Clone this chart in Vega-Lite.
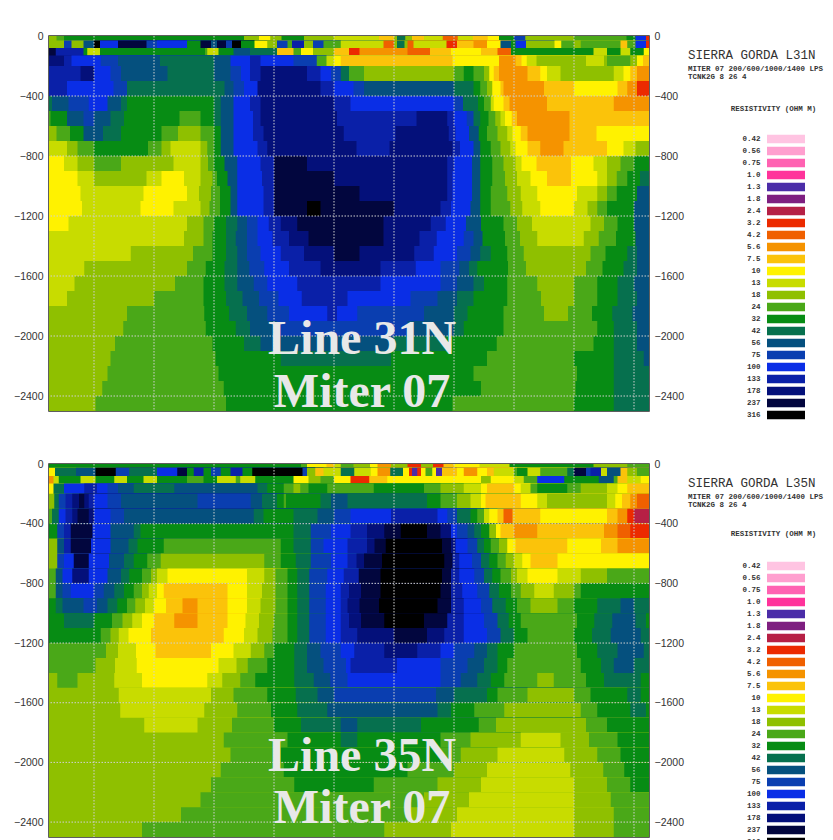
{"$schema":"https://vega.github.io/schema/vega-lite/v6.json","padding":{"left":12,"top":30,"right":0,"bottom":0},"background":"white","config":{"view":{"stroke":"#2a2a2a","strokeWidth":1.5},"legend":{"disable":true},"axis":{"labelFont":"Liberation Sans","labelFontSize":10.5,"labelColor":"#333","ticks":false,"domain":false,"grid":false,"title":null}},
"datasets":{
"a":[
{"x":3300,"d":0,"r":18},{"x":3350,"d":0,"r":24},{"x":3400,"d":0,"r":32},{"x":4600,"d":0,"r":18},{"x":4700,"d":0,"r":10},{"x":4775,"d":0,"r":18},{"x":4850,"d":0,"r":32},{"x":5000,"d":0,"r":18},{"x":5200,"d":0,"r":13},{"x":5500,"d":0,"r":7.5},{"x":5600,"d":0,"r":18},{"x":5620,"d":0,"r":42},{"x":5675,"d":0,"r":18},{"x":5720,"d":0,"r":7.5},{"x":5800,"d":0,"r":13},{"x":5925,"d":0,"r":4.2},{"x":6025,"d":0,"r":13},{"x":6125,"d":0,"r":7.5},{"x":6225,"d":0,"r":10},{"x":6300,"d":0,"r":32},{"x":6400,"d":0,"r":75},{"x":6475,"d":0,"r":18},{"x":6800,"d":0,"r":24},{"x":7150,"d":0,"r":32},{"x":7210,"d":0,"r":100},{"x":7280,"d":0,"r":3.2},
{"x":3300,"d":-30,"r":18},{"x":3400,"d":-30,"r":75},{"x":3450,"d":-30,"r":18},{"x":3530,"d":-30,"r":56},{"x":3600,"d":-30,"r":316},{"x":3640,"d":-30,"r":100},{"x":3760,"d":-30,"r":237},{"x":3950,"d":-30,"r":75},{"x":4020,"d":-30,"r":100},{"x":4220,"d":-30,"r":32},{"x":4310,"d":-30,"r":237},{"x":4380,"d":-30,"r":56},{"x":4420,"d":-30,"r":237},{"x":4480,"d":-30,"r":75},{"x":4520,"d":-30,"r":316},{"x":4580,"d":-30,"r":32},{"x":4670,"d":-30,"r":10},{"x":4755,"d":-30,"r":18},{"x":4820,"d":-30,"r":75},{"x":4890,"d":-30,"r":24},{"x":4920,"d":-30,"r":133},{"x":5000,"d":-30,"r":18},{"x":5060,"d":-30,"r":75},{"x":5130,"d":-30,"r":24},{"x":5245,"d":-30,"r":13},{"x":5530,"d":-30,"r":4.2},{"x":5600,"d":-30,"r":18},{"x":5620,"d":-30,"r":42},{"x":5670,"d":-30,"r":18},{"x":5690,"d":-30,"r":4.2},{"x":5730,"d":-30,"r":13},{"x":5950,"d":-30,"r":3.2},{"x":6020,"d":-30,"r":7.5},{"x":6130,"d":-30,"r":5.6},{"x":6220,"d":-30,"r":10},{"x":6310,"d":-30,"r":56},{"x":6380,"d":-30,"r":32},{"x":6410,"d":-30,"r":100},{"x":6480,"d":-30,"r":18},{"x":6670,"d":-30,"r":10},{"x":6715,"d":-30,"r":24},{"x":6800,"d":-30,"r":18},{"x":6845,"d":-30,"r":24},{"x":7110,"d":-30,"r":7.5},{"x":7155,"d":-30,"r":24},{"x":7210,"d":-30,"r":100},{"x":7280,"d":-30,"r":3.2},
{"x":3300,"d":-80,"r":237},{"x":3345,"d":-80,"r":133},{"x":3530,"d":-80,"r":32},{"x":3555,"d":-80,"r":13},{"x":3640,"d":-80,"r":32},{"x":4340,"d":-80,"r":24},{"x":4355,"d":-80,"r":13},{"x":4430,"d":-80,"r":32},{"x":4530,"d":-80,"r":56},{"x":4640,"d":-80,"r":42},{"x":4820,"d":-80,"r":7.5},{"x":4930,"d":-80,"r":24},{"x":4980,"d":-80,"r":10},{"x":5060,"d":-80,"r":18},{"x":5200,"d":-80,"r":7.5},{"x":5300,"d":-80,"r":3.2},{"x":5370,"d":-80,"r":5.6},{"x":5690,"d":-80,"r":4.2},{"x":5840,"d":-80,"r":7.5},{"x":5980,"d":-80,"r":10},{"x":6180,"d":-80,"r":7.5},{"x":6290,"d":-80,"r":4.2},{"x":6380,"d":-80,"r":32},{"x":6930,"d":-80,"r":13},{"x":7020,"d":-80,"r":32},{"x":7110,"d":-80,"r":13},{"x":7175,"d":-80,"r":32},{"x":7265,"d":-80,"r":10},
{"x":3300,"d":-130,"r":178},{"x":3400,"d":-130,"r":133},{"x":3450,"d":-130,"r":100},{"x":3645,"d":-130,"r":75},{"x":3760,"d":-130,"r":56},{"x":4040,"d":-130,"r":42},{"x":4400,"d":-130,"r":56},{"x":4510,"d":-130,"r":100},{"x":4640,"d":-130,"r":133},{"x":4710,"d":-130,"r":100},{"x":4930,"d":-130,"r":75},{"x":5085,"d":-130,"r":24},{"x":5150,"d":-130,"r":13},{"x":5200,"d":-130,"r":10},{"x":5245,"d":-130,"r":7.5},{"x":5990,"d":-130,"r":10},{"x":6300,"d":-130,"r":5.6},{"x":6410,"d":-130,"r":7.5},{"x":6450,"d":-130,"r":10},{"x":6485,"d":-130,"r":13},{"x":6550,"d":-130,"r":18},{"x":6880,"d":-130,"r":13},{"x":7000,"d":-130,"r":18},{"x":7020,"d":-130,"r":24},{"x":7175,"d":-130,"r":18},{"x":7220,"d":-130,"r":10},{"x":7260,"d":-130,"r":7.5},
{"x":3300,"d":-200,"r":133},{"x":3510,"d":-200,"r":178},{"x":3600,"d":-200,"r":100},{"x":3710,"d":-200,"r":75},{"x":3780,"d":-200,"r":56},{"x":4090,"d":-200,"r":42},{"x":4400,"d":-200,"r":56},{"x":4510,"d":-200,"r":75},{"x":4580,"d":-200,"r":100},{"x":4640,"d":-200,"r":133},{"x":4710,"d":-200,"r":178},{"x":5020,"d":-200,"r":133},{"x":5110,"d":-200,"r":100},{"x":5180,"d":-200,"r":75},{"x":5245,"d":-200,"r":42},{"x":5300,"d":-200,"r":24},{"x":5400,"d":-200,"r":18},{"x":6000,"d":-200,"r":24},{"x":6065,"d":-200,"r":32},{"x":6130,"d":-200,"r":24},{"x":6200,"d":-200,"r":18},{"x":6235,"d":-200,"r":10},{"x":6265,"d":-200,"r":7.5},{"x":6300,"d":-200,"r":5.6},{"x":6490,"d":-200,"r":7.5},{"x":6575,"d":-200,"r":10},{"x":6620,"d":-200,"r":13},{"x":6710,"d":-200,"r":18},{"x":7065,"d":-200,"r":13},{"x":7130,"d":-200,"r":10},{"x":7175,"d":-200,"r":7.5},{"x":7220,"d":-200,"r":5.6},
{"x":3300,"d":-300,"r":133},{"x":3420,"d":-300,"r":100},{"x":3730,"d":-300,"r":75},{"x":3820,"d":-300,"r":42},{"x":4470,"d":-300,"r":56},{"x":4530,"d":-300,"r":75},{"x":4600,"d":-300,"r":100},{"x":4690,"d":-300,"r":178},{"x":5110,"d":-300,"r":133},{"x":5200,"d":-300,"r":100},{"x":5330,"d":-300,"r":75},{"x":5400,"d":-300,"r":56},{"x":6000,"d":-300,"r":42},{"x":6130,"d":-300,"r":32},{"x":6175,"d":-300,"r":24},{"x":6220,"d":-300,"r":18},{"x":6255,"d":-300,"r":10},{"x":6310,"d":-300,"r":7.5},{"x":6330,"d":-300,"r":5.6},{"x":6600,"d":-300,"r":7.5},{"x":6800,"d":-300,"r":10},{"x":7090,"d":-300,"r":7.5},{"x":7155,"d":-300,"r":5.6},{"x":7220,"d":-300,"r":3.2},
{"x":3300,"d":-400,"r":42},{"x":3320,"d":-400,"r":56},{"x":3430,"d":-400,"r":75},{"x":3565,"d":-400,"r":100},{"x":3690,"d":-400,"r":56},{"x":3780,"d":-400,"r":42},{"x":3820,"d":-400,"r":32},{"x":4400,"d":-400,"r":42},{"x":4445,"d":-400,"r":56},{"x":4530,"d":-400,"r":100},{"x":4640,"d":-400,"r":133},{"x":4710,"d":-400,"r":178},{"x":5200,"d":-400,"r":133},{"x":5310,"d":-400,"r":100},{"x":6000,"d":-400,"r":75},{"x":6060,"d":-400,"r":42},{"x":6160,"d":-400,"r":32},{"x":6200,"d":-400,"r":24},{"x":6245,"d":-400,"r":13},{"x":6265,"d":-400,"r":10},{"x":6330,"d":-400,"r":7.5},{"x":6370,"d":-400,"r":5.6},{"x":6620,"d":-400,"r":7.5},{"x":7065,"d":-400,"r":5.6},
{"x":3300,"d":-500,"r":24},{"x":3310,"d":-500,"r":32},{"x":3420,"d":-500,"r":56},{"x":3530,"d":-500,"r":75},{"x":3600,"d":-500,"r":56},{"x":3710,"d":-500,"r":42},{"x":3800,"d":-500,"r":32},{"x":4170,"d":-500,"r":24},{"x":4310,"d":-500,"r":32},{"x":4400,"d":-500,"r":42},{"x":4445,"d":-500,"r":56},{"x":4530,"d":-500,"r":100},{"x":4660,"d":-500,"r":133},{"x":4710,"d":-500,"r":178},{"x":5220,"d":-500,"r":133},{"x":5750,"d":-500,"r":178},{"x":5955,"d":-500,"r":133},{"x":6000,"d":-500,"r":100},{"x":6085,"d":-500,"r":75},{"x":6130,"d":-500,"r":42},{"x":6175,"d":-500,"r":32},{"x":6230,"d":-500,"r":24},{"x":6275,"d":-500,"r":18},{"x":6310,"d":-500,"r":13},{"x":6340,"d":-500,"r":10},{"x":6385,"d":-500,"r":7.5},{"x":6420,"d":-500,"r":5.6},{"x":6770,"d":-500,"r":7.5},
{"x":3300,"d":-600,"r":18},{"x":3350,"d":-600,"r":24},{"x":3440,"d":-600,"r":32},{"x":3530,"d":-600,"r":56},{"x":3660,"d":-600,"r":42},{"x":3780,"d":-600,"r":32},{"x":4050,"d":-600,"r":24},{"x":4160,"d":-600,"r":18},{"x":4310,"d":-600,"r":24},{"x":4400,"d":-600,"r":32},{"x":4445,"d":-600,"r":56},{"x":4530,"d":-600,"r":100},{"x":4660,"d":-600,"r":133},{"x":4730,"d":-600,"r":178},{"x":5265,"d":-600,"r":133},{"x":5610,"d":-600,"r":178},{"x":5965,"d":-600,"r":133},{"x":6010,"d":-600,"r":100},{"x":6100,"d":-600,"r":56},{"x":6165,"d":-600,"r":32},{"x":6220,"d":-600,"r":24},{"x":6290,"d":-600,"r":18},{"x":6355,"d":-600,"r":13},{"x":6390,"d":-600,"r":10},{"x":6445,"d":-600,"r":7.5},{"x":6490,"d":-600,"r":5.6},{"x":6770,"d":-600,"r":7.5},{"x":6950,"d":-600,"r":10},
{"x":3300,"d":-700,"r":13},{"x":3420,"d":-700,"r":18},{"x":3490,"d":-700,"r":24},{"x":3600,"d":-700,"r":32},{"x":3960,"d":-700,"r":24},{"x":4050,"d":-700,"r":18},{"x":4110,"d":-700,"r":13},{"x":4310,"d":-700,"r":18},{"x":4355,"d":-700,"r":24},{"x":4400,"d":-700,"r":32},{"x":4445,"d":-700,"r":56},{"x":4530,"d":-700,"r":100},{"x":4690,"d":-700,"r":133},{"x":4755,"d":-700,"r":178},{"x":5350,"d":-700,"r":133},{"x":5570,"d":-700,"r":178},{"x":5990,"d":-700,"r":133},{"x":6040,"d":-700,"r":100},{"x":6130,"d":-700,"r":56},{"x":6175,"d":-700,"r":32},{"x":6245,"d":-700,"r":24},{"x":6310,"d":-700,"r":18},{"x":6375,"d":-700,"r":13},{"x":6410,"d":-700,"r":10},{"x":6490,"d":-700,"r":7.5},{"x":6575,"d":-700,"r":5.6},{"x":6730,"d":-700,"r":7.5},{"x":7020,"d":-700,"r":10},{"x":7130,"d":-700,"r":13},{"x":7210,"d":-700,"r":18},
{"x":3300,"d":-800,"r":10},{"x":3400,"d":-800,"r":13},{"x":3490,"d":-800,"r":18},{"x":3600,"d":-800,"r":24},{"x":3780,"d":-800,"r":18},{"x":4130,"d":-800,"r":13},{"x":4310,"d":-800,"r":18},{"x":4360,"d":-800,"r":24},{"x":4400,"d":-800,"r":32},{"x":4470,"d":-800,"r":56},{"x":4555,"d":-800,"r":100},{"x":4710,"d":-800,"r":133},{"x":4800,"d":-800,"r":237},{"x":5020,"d":-800,"r":178},{"x":5955,"d":-800,"r":133},{"x":6000,"d":-800,"r":100},{"x":6120,"d":-800,"r":56},{"x":6175,"d":-800,"r":32},{"x":6255,"d":-800,"r":24},{"x":6330,"d":-800,"r":18},{"x":6410,"d":-800,"r":13},{"x":6450,"d":-800,"r":10},{"x":6550,"d":-800,"r":7.5},{"x":6780,"d":-800,"r":10},{"x":6930,"d":-800,"r":13},{"x":7020,"d":-800,"r":18},{"x":7110,"d":-800,"r":24},{"x":7200,"d":-800,"r":32},
{"x":3300,"d":-900,"r":10},{"x":3490,"d":-900,"r":13},{"x":3600,"d":-900,"r":18},{"x":3950,"d":-900,"r":13},{"x":4050,"d":-900,"r":10},{"x":4200,"d":-900,"r":13},{"x":4310,"d":-900,"r":18},{"x":4390,"d":-900,"r":24},{"x":4420,"d":-900,"r":32},{"x":4490,"d":-900,"r":56},{"x":4555,"d":-900,"r":100},{"x":4720,"d":-900,"r":133},{"x":4800,"d":-900,"r":237},{"x":5200,"d":-900,"r":178},{"x":5955,"d":-900,"r":133},{"x":5990,"d":-900,"r":100},{"x":6120,"d":-900,"r":56},{"x":6175,"d":-900,"r":32},{"x":6255,"d":-900,"r":24},{"x":6340,"d":-900,"r":18},{"x":6420,"d":-900,"r":13},{"x":6510,"d":-900,"r":10},{"x":6620,"d":-900,"r":7.5},{"x":6780,"d":-900,"r":10},{"x":6955,"d":-900,"r":13},{"x":7020,"d":-900,"r":18},{"x":7085,"d":-900,"r":24},{"x":7155,"d":-900,"r":32},{"x":7240,"d":-900,"r":42},
{"x":3300,"d":-1000,"r":10},{"x":3510,"d":-1000,"r":13},{"x":3930,"d":-1000,"r":10},{"x":4220,"d":-1000,"r":13},{"x":4300,"d":-1000,"r":18},{"x":4380,"d":-1000,"r":24},{"x":4440,"d":-1000,"r":32},{"x":4510,"d":-1000,"r":56},{"x":4555,"d":-1000,"r":100},{"x":4730,"d":-1000,"r":133},{"x":4800,"d":-1000,"r":237},{"x":5370,"d":-1000,"r":178},{"x":5955,"d":-1000,"r":133},{"x":5990,"d":-1000,"r":100},{"x":6120,"d":-1000,"r":56},{"x":6175,"d":-1000,"r":32},{"x":6245,"d":-1000,"r":24},{"x":6355,"d":-1000,"r":18},{"x":6445,"d":-1000,"r":13},{"x":6555,"d":-1000,"r":10},{"x":6820,"d":-1000,"r":13},{"x":6955,"d":-1000,"r":18},{"x":7020,"d":-1000,"r":24},{"x":7085,"d":-1000,"r":32},{"x":7220,"d":-1000,"r":56},
{"x":3300,"d":-1100,"r":10},{"x":3520,"d":-1100,"r":13},{"x":3910,"d":-1100,"r":10},{"x":4130,"d":-1100,"r":13},{"x":4310,"d":-1100,"r":18},{"x":4370,"d":-1100,"r":24},{"x":4440,"d":-1100,"r":32},{"x":4510,"d":-1100,"r":56},{"x":4555,"d":-1100,"r":100},{"x":4730,"d":-1100,"r":133},{"x":4800,"d":-1100,"r":237},{"x":5020,"d":-1100,"r":316},{"x":5110,"d":-1100,"r":237},{"x":5600,"d":-1100,"r":178},{"x":5910,"d":-1100,"r":133},{"x":5980,"d":-1100,"r":100},{"x":6110,"d":-1100,"r":56},{"x":6175,"d":-1100,"r":32},{"x":6245,"d":-1100,"r":24},{"x":6375,"d":-1100,"r":18},{"x":6455,"d":-1100,"r":13},{"x":6575,"d":-1100,"r":10},{"x":6800,"d":-1100,"r":13},{"x":6890,"d":-1100,"r":18},{"x":6955,"d":-1100,"r":24},{"x":7020,"d":-1100,"r":32},{"x":7200,"d":-1100,"r":56},
{"x":3300,"d":-1200,"r":10},{"x":3430,"d":-1200,"r":13},{"x":4220,"d":-1200,"r":18},{"x":4330,"d":-1200,"r":24},{"x":4400,"d":-1200,"r":32},{"x":4480,"d":-1200,"r":42},{"x":4555,"d":-1200,"r":56},{"x":4620,"d":-1200,"r":75},{"x":4690,"d":-1200,"r":100},{"x":4765,"d":-1200,"r":133},{"x":4845,"d":-1200,"r":178},{"x":4955,"d":-1200,"r":237},{"x":5530,"d":-1200,"r":178},{"x":5845,"d":-1200,"r":133},{"x":5945,"d":-1200,"r":100},{"x":6080,"d":-1200,"r":56},{"x":6180,"d":-1200,"r":32},{"x":6330,"d":-1200,"r":24},{"x":6420,"d":-1200,"r":18},{"x":6520,"d":-1200,"r":13},{"x":6910,"d":-1200,"r":18},{"x":7000,"d":-1200,"r":24},{"x":7090,"d":-1200,"r":32},{"x":7200,"d":-1200,"r":56},
{"x":3300,"d":-1300,"r":13},{"x":4200,"d":-1300,"r":18},{"x":4330,"d":-1300,"r":24},{"x":4390,"d":-1300,"r":32},{"x":4480,"d":-1300,"r":42},{"x":4545,"d":-1300,"r":56},{"x":4620,"d":-1300,"r":75},{"x":4690,"d":-1300,"r":100},{"x":4790,"d":-1300,"r":133},{"x":4900,"d":-1300,"r":178},{"x":5030,"d":-1300,"r":237},{"x":5530,"d":-1300,"r":178},{"x":5770,"d":-1300,"r":133},{"x":5885,"d":-1300,"r":100},{"x":6065,"d":-1300,"r":75},{"x":6130,"d":-1300,"r":56},{"x":6190,"d":-1300,"r":32},{"x":6340,"d":-1300,"r":24},{"x":6440,"d":-1300,"r":18},{"x":6555,"d":-1300,"r":13},{"x":6865,"d":-1300,"r":18},{"x":6965,"d":-1300,"r":24},{"x":7080,"d":-1300,"r":32},{"x":7210,"d":-1300,"r":56},
{"x":3300,"d":-1400,"r":13},{"x":3845,"d":-1400,"r":18},{"x":4260,"d":-1400,"r":24},{"x":4390,"d":-1400,"r":32},{"x":4480,"d":-1400,"r":42},{"x":4555,"d":-1400,"r":56},{"x":4620,"d":-1400,"r":75},{"x":4710,"d":-1400,"r":100},{"x":4845,"d":-1400,"r":133},{"x":5000,"d":-1400,"r":178},{"x":5200,"d":-1400,"r":237},{"x":5370,"d":-1400,"r":178},{"x":5735,"d":-1400,"r":133},{"x":5865,"d":-1400,"r":100},{"x":6020,"d":-1400,"r":75},{"x":6110,"d":-1400,"r":56},{"x":6175,"d":-1400,"r":42},{"x":6245,"d":-1400,"r":32},{"x":6355,"d":-1400,"r":24},{"x":6465,"d":-1400,"r":18},{"x":6910,"d":-1400,"r":24},{"x":7010,"d":-1400,"r":32},{"x":7155,"d":-1400,"r":42},{"x":7220,"d":-1400,"r":56},
{"x":3300,"d":-1500,"r":13},{"x":3535,"d":-1500,"r":18},{"x":4220,"d":-1500,"r":24},{"x":4345,"d":-1500,"r":32},{"x":4470,"d":-1500,"r":42},{"x":4555,"d":-1500,"r":56},{"x":4635,"d":-1500,"r":75},{"x":4735,"d":-1500,"r":100},{"x":4900,"d":-1500,"r":133},{"x":5110,"d":-1500,"r":178},{"x":5510,"d":-1500,"r":133},{"x":5745,"d":-1500,"r":100},{"x":5910,"d":-1500,"r":75},{"x":6035,"d":-1500,"r":56},{"x":6100,"d":-1500,"r":42},{"x":6155,"d":-1500,"r":32},{"x":6360,"d":-1500,"r":24},{"x":6480,"d":-1500,"r":18},{"x":6880,"d":-1500,"r":24},{"x":6990,"d":-1500,"r":32},{"x":7130,"d":-1500,"r":42},{"x":7220,"d":-1500,"r":56},
{"x":3300,"d":-1600,"r":13},{"x":3470,"d":-1600,"r":18},{"x":4140,"d":-1600,"r":24},{"x":4330,"d":-1600,"r":32},{"x":4470,"d":-1600,"r":42},{"x":4555,"d":-1600,"r":56},{"x":4665,"d":-1600,"r":75},{"x":4755,"d":-1600,"r":100},{"x":4955,"d":-1600,"r":133},{"x":5510,"d":-1600,"r":100},{"x":5910,"d":-1600,"r":75},{"x":6020,"d":-1600,"r":56},{"x":6130,"d":-1600,"r":42},{"x":6200,"d":-1600,"r":32},{"x":6355,"d":-1600,"r":24},{"x":6555,"d":-1600,"r":18},{"x":6800,"d":-1600,"r":24},{"x":6955,"d":-1600,"r":32},{"x":7090,"d":-1600,"r":42},{"x":7200,"d":-1600,"r":56},
{"x":3300,"d":-1700,"r":13},{"x":3420,"d":-1700,"r":18},{"x":4000,"d":-1700,"r":24},{"x":4330,"d":-1700,"r":32},{"x":4480,"d":-1700,"r":42},{"x":4590,"d":-1700,"r":56},{"x":4700,"d":-1700,"r":75},{"x":4830,"d":-1700,"r":100},{"x":4985,"d":-1700,"r":133},{"x":5290,"d":-1700,"r":100},{"x":5710,"d":-1700,"r":75},{"x":5890,"d":-1700,"r":56},{"x":6020,"d":-1700,"r":42},{"x":6130,"d":-1700,"r":32},{"x":6355,"d":-1700,"r":24},{"x":6580,"d":-1700,"r":18},{"x":6800,"d":-1700,"r":24},{"x":6955,"d":-1700,"r":32},{"x":7090,"d":-1700,"r":42},{"x":7220,"d":-1700,"r":56},
{"x":3300,"d":-1800,"r":18},{"x":3820,"d":-1800,"r":24},{"x":4335,"d":-1800,"r":32},{"x":4500,"d":-1800,"r":42},{"x":4620,"d":-1800,"r":56},{"x":4755,"d":-1800,"r":75},{"x":4900,"d":-1800,"r":100},{"x":5155,"d":-1800,"r":133},{"x":5220,"d":-1800,"r":100},{"x":5355,"d":-1800,"r":75},{"x":5800,"d":-1800,"r":56},{"x":6000,"d":-1800,"r":42},{"x":6090,"d":-1800,"r":32},{"x":6330,"d":-1800,"r":24},{"x":6600,"d":-1800,"r":18},{"x":6760,"d":-1800,"r":24},{"x":6920,"d":-1800,"r":32},{"x":7055,"d":-1800,"r":42},{"x":7190,"d":-1800,"r":56},
{"x":3300,"d":-1900,"r":18},{"x":3795,"d":-1900,"r":24},{"x":4345,"d":-1900,"r":32},{"x":4545,"d":-1900,"r":42},{"x":4640,"d":-1900,"r":56},{"x":4820,"d":-1900,"r":75},{"x":5690,"d":-1900,"r":56},{"x":6000,"d":-1900,"r":42},{"x":6065,"d":-1900,"r":32},{"x":6330,"d":-1900,"r":24},{"x":6955,"d":-1900,"r":32},{"x":7065,"d":-1900,"r":42},{"x":7220,"d":-1900,"r":56},
{"x":3300,"d":-2000,"r":18},{"x":3740,"d":-2000,"r":24},{"x":4390,"d":-2000,"r":32},{"x":4600,"d":-2000,"r":42},{"x":4710,"d":-2000,"r":56},{"x":5600,"d":-2000,"r":42},{"x":5950,"d":-2000,"r":32},{"x":6285,"d":-2000,"r":24},{"x":6930,"d":-2000,"r":32},{"x":7065,"d":-2000,"r":42},{"x":7220,"d":-2000,"r":56},
{"x":3300,"d":-2100,"r":18},{"x":3710,"d":-2100,"r":24},{"x":4410,"d":-2100,"r":32},{"x":4845,"d":-2100,"r":42},{"x":5580,"d":-2100,"r":32},{"x":6220,"d":-2100,"r":24},{"x":6800,"d":-2100,"r":32},{"x":7065,"d":-2100,"r":42},{"x":7265,"d":-2100,"r":56},
{"x":3300,"d":-2200,"r":18},{"x":3690,"d":-2200,"r":24},{"x":4430,"d":-2200,"r":32},{"x":6130,"d":-2200,"r":24},{"x":6820,"d":-2200,"r":32},{"x":7065,"d":-2200,"r":42},
{"x":3300,"d":-2300,"r":18},{"x":3655,"d":-2300,"r":24},{"x":4465,"d":-2300,"r":32},{"x":6180,"d":-2300,"r":24},{"x":6810,"d":-2300,"r":32},{"x":7065,"d":-2300,"r":42},
{"x":3300,"d":-2400,"r":18},{"x":3610,"d":-2400,"r":24},{"x":4480,"d":-2400,"r":32},{"x":5990,"d":-2400,"r":24},{"x":6800,"d":-2400,"r":32},{"x":7065,"d":-2400,"r":42}
],
"b":[
{"x":3300,"d":0,"r":32},{"x":4980,"d":0,"r":24},{"x":5020,"d":0,"r":10},{"x":5150,"d":0,"r":7.5},{"x":5200,"d":0,"r":13},{"x":5245,"d":0,"r":24},{"x":5330,"d":0,"r":18},{"x":5440,"d":0,"r":10},{"x":5490,"d":0,"r":5.6},{"x":5580,"d":0,"r":18},{"x":5690,"d":0,"r":3.2},{"x":5780,"d":0,"r":18},{"x":5860,"d":0,"r":3.2},{"x":5930,"d":0,"r":7.5},{"x":6000,"d":0,"r":10},{"x":6170,"d":0,"r":13},{"x":6370,"d":0,"r":32},{"x":6930,"d":0,"r":18},{"x":7155,"d":0,"r":24},
{"x":3300,"d":-25,"r":10},{"x":3340,"d":-25,"r":42},{"x":3480,"d":-25,"r":56},{"x":3610,"d":-25,"r":316},{"x":3745,"d":-25,"r":75},{"x":3835,"d":-25,"r":42},{"x":4020,"d":-25,"r":100},{"x":4155,"d":-25,"r":237},{"x":4220,"d":-25,"r":32},{"x":4265,"d":-25,"r":133},{"x":4330,"d":-25,"r":32},{"x":4380,"d":-25,"r":75},{"x":4445,"d":-25,"r":32},{"x":4510,"d":-25,"r":133},{"x":4590,"d":-25,"r":32},{"x":4655,"d":-25,"r":316},{"x":4990,"d":-25,"r":75},{"x":5020,"d":-25,"r":18},{"x":5075,"d":-25,"r":7.5},{"x":5130,"d":-25,"r":13},{"x":5245,"d":-25,"r":42},{"x":5335,"d":-25,"r":13},{"x":5445,"d":-25,"r":10},{"x":5490,"d":-25,"r":5.6},{"x":5575,"d":-25,"r":42},{"x":5660,"d":-25,"r":10},{"x":5700,"d":-25,"r":3.2},{"x":5720,"d":-25,"r":1.3},{"x":5755,"d":-25,"r":3.2},{"x":5780,"d":-25,"r":10},{"x":5810,"d":-25,"r":24},{"x":5855,"d":-25,"r":10},{"x":5880,"d":-25,"r":1.3},{"x":5920,"d":-25,"r":7.5},{"x":6020,"d":-25,"r":10},{"x":6065,"d":-25,"r":5.6},{"x":6155,"d":-25,"r":10},{"x":6220,"d":-25,"r":7.5},{"x":6265,"d":-25,"r":13},{"x":6400,"d":-25,"r":24},{"x":6420,"d":-25,"r":32},{"x":6490,"d":-25,"r":13},{"x":6575,"d":-25,"r":24},{"x":6755,"d":-25,"r":42},{"x":6800,"d":-25,"r":237},{"x":6880,"d":-25,"r":75},{"x":6910,"d":-25,"r":133},{"x":6980,"d":-25,"r":13},{"x":7020,"d":-25,"r":56},{"x":7110,"d":-25,"r":7.5},{"x":7155,"d":-25,"r":18},{"x":7220,"d":-25,"r":24},
{"x":3300,"d":-80,"r":5.6},{"x":3330,"d":-80,"r":13},{"x":3365,"d":-80,"r":32},{"x":3510,"d":-80,"r":13},{"x":3610,"d":-80,"r":32},{"x":3735,"d":-80,"r":13},{"x":3820,"d":-80,"r":32},{"x":3930,"d":-80,"r":13},{"x":4020,"d":-80,"r":32},{"x":4220,"d":-80,"r":24},{"x":4330,"d":-80,"r":32},{"x":4420,"d":-80,"r":13},{"x":4545,"d":-80,"r":24},{"x":4575,"d":-80,"r":13},{"x":4675,"d":-80,"r":32},{"x":4930,"d":-80,"r":10},{"x":5030,"d":-80,"r":18},{"x":5110,"d":-80,"r":24},{"x":5200,"d":-80,"r":10},{"x":5310,"d":-80,"r":3.2},{"x":5435,"d":-80,"r":7.5},{"x":5555,"d":-80,"r":10},{"x":6180,"d":-80,"r":18},{"x":6245,"d":-80,"r":10},{"x":6400,"d":-80,"r":13},{"x":6465,"d":-80,"r":24},{"x":6555,"d":-80,"r":100},{"x":6735,"d":-80,"r":32},{"x":6965,"d":-80,"r":56},{"x":7065,"d":-80,"r":24},{"x":7090,"d":-80,"r":7.5},{"x":7155,"d":-80,"r":13},{"x":7245,"d":-80,"r":10},
{"x":3300,"d":-130,"r":10},{"x":3330,"d":-130,"r":42},{"x":3400,"d":-130,"r":100},{"x":3535,"d":-130,"r":133},{"x":3620,"d":-130,"r":100},{"x":3690,"d":-130,"r":75},{"x":3760,"d":-130,"r":56},{"x":3865,"d":-130,"r":42},{"x":4135,"d":-130,"r":56},{"x":4690,"d":-130,"r":42},{"x":4755,"d":-130,"r":32},{"x":4865,"d":-130,"r":24},{"x":4930,"d":-130,"r":18},{"x":4975,"d":-130,"r":24},{"x":5030,"d":-130,"r":32},{"x":5155,"d":-130,"r":24},{"x":5465,"d":-130,"r":32},{"x":5800,"d":-130,"r":24},{"x":5910,"d":-130,"r":18},{"x":6065,"d":-130,"r":13},{"x":6180,"d":-130,"r":10},{"x":6220,"d":-130,"r":7.5},{"x":6400,"d":-130,"r":10},{"x":6445,"d":-130,"r":13},{"x":6510,"d":-130,"r":24},{"x":6555,"d":-130,"r":32},{"x":6755,"d":-130,"r":24},{"x":6845,"d":-130,"r":18},{"x":7020,"d":-130,"r":13},{"x":7090,"d":-130,"r":10},{"x":7155,"d":-130,"r":7.5},
{"x":3300,"d":-200,"r":18},{"x":3335,"d":-200,"r":42},{"x":3365,"d":-200,"r":75},{"x":3410,"d":-200,"r":133},{"x":3455,"d":-200,"r":178},{"x":3500,"d":-200,"r":237},{"x":3535,"d":-200,"r":178},{"x":3565,"d":-200,"r":133},{"x":3600,"d":-200,"r":100},{"x":3690,"d":-200,"r":75},{"x":3780,"d":-200,"r":56},{"x":4290,"d":-200,"r":75},{"x":4645,"d":-200,"r":56},{"x":4720,"d":-200,"r":42},{"x":4820,"d":-200,"r":32},{"x":4865,"d":-200,"r":24},{"x":4880,"d":-200,"r":32},{"x":5110,"d":-200,"r":42},{"x":5180,"d":-200,"r":56},{"x":5290,"d":-200,"r":42},{"x":5820,"d":-200,"r":32},{"x":5910,"d":-200,"r":24},{"x":6020,"d":-200,"r":18},{"x":6110,"d":-200,"r":13},{"x":6180,"d":-200,"r":10},{"x":6210,"d":-200,"r":7.5},{"x":6445,"d":-200,"r":10},{"x":6555,"d":-200,"r":13},{"x":6620,"d":-200,"r":18},{"x":7020,"d":-200,"r":13},{"x":7075,"d":-200,"r":10},{"x":7120,"d":-200,"r":7.5},{"x":7175,"d":-200,"r":5.6},{"x":7220,"d":-200,"r":4.2},
{"x":3300,"d":-300,"r":24},{"x":3320,"d":-300,"r":42},{"x":3365,"d":-300,"r":100},{"x":3410,"d":-300,"r":133},{"x":3455,"d":-300,"r":178},{"x":3490,"d":-300,"r":237},{"x":3565,"d":-300,"r":178},{"x":3600,"d":-300,"r":100},{"x":3710,"d":-300,"r":75},{"x":3800,"d":-300,"r":56},{"x":4665,"d":-300,"r":42},{"x":4730,"d":-300,"r":32},{"x":4930,"d":-300,"r":42},{"x":5090,"d":-300,"r":56},{"x":5200,"d":-300,"r":75},{"x":5310,"d":-300,"r":100},{"x":5580,"d":-300,"r":133},{"x":5890,"d":-300,"r":100},{"x":5955,"d":-300,"r":75},{"x":6020,"d":-300,"r":42},{"x":6110,"d":-300,"r":32},{"x":6155,"d":-300,"r":24},{"x":6200,"d":-300,"r":13},{"x":6235,"d":-300,"r":10},{"x":6290,"d":-300,"r":7.5},{"x":6330,"d":-300,"r":4.2},{"x":6390,"d":-300,"r":7.5},{"x":6575,"d":-300,"r":10},{"x":7020,"d":-300,"r":7.5},{"x":7090,"d":-300,"r":5.6},{"x":7155,"d":-300,"r":3.2},{"x":7200,"d":-300,"r":2.4},
{"x":3300,"d":-400,"r":32},{"x":3355,"d":-400,"r":75},{"x":3400,"d":-400,"r":133},{"x":3445,"d":-400,"r":237},{"x":3590,"d":-400,"r":100},{"x":3710,"d":-400,"r":56},{"x":3865,"d":-400,"r":42},{"x":3910,"d":-400,"r":32},{"x":4930,"d":-400,"r":42},{"x":5045,"d":-400,"r":75},{"x":5180,"d":-400,"r":100},{"x":5310,"d":-400,"r":133},{"x":5420,"d":-400,"r":178},{"x":5535,"d":-400,"r":237},{"x":5645,"d":-400,"r":316},{"x":5820,"d":-400,"r":237},{"x":5910,"d":-400,"r":178},{"x":5980,"d":-400,"r":100},{"x":6020,"d":-400,"r":75},{"x":6090,"d":-400,"r":56},{"x":6135,"d":-400,"r":42},{"x":6180,"d":-400,"r":32},{"x":6235,"d":-400,"r":18},{"x":6280,"d":-400,"r":10},{"x":6310,"d":-400,"r":7.5},{"x":6400,"d":-400,"r":5.6},{"x":6555,"d":-400,"r":7.5},{"x":7000,"d":-400,"r":5.6},{"x":7090,"d":-400,"r":4.2},{"x":7175,"d":-400,"r":3.2},
{"x":3300,"d":-500,"r":18},{"x":3355,"d":-500,"r":56},{"x":3400,"d":-500,"r":133},{"x":3445,"d":-500,"r":237},{"x":3580,"d":-500,"r":100},{"x":3710,"d":-500,"r":56},{"x":3830,"d":-500,"r":42},{"x":3890,"d":-500,"r":32},{"x":4065,"d":-500,"r":24},{"x":4845,"d":-500,"r":32},{"x":4930,"d":-500,"r":42},{"x":5045,"d":-500,"r":75},{"x":5130,"d":-500,"r":100},{"x":5290,"d":-500,"r":133},{"x":5420,"d":-500,"r":178},{"x":5470,"d":-500,"r":237},{"x":5545,"d":-500,"r":316},{"x":5920,"d":-500,"r":237},{"x":5980,"d":-500,"r":178},{"x":6010,"d":-500,"r":100},{"x":6090,"d":-500,"r":75},{"x":6155,"d":-500,"r":42},{"x":6200,"d":-500,"r":32},{"x":6245,"d":-500,"r":24},{"x":6300,"d":-500,"r":18},{"x":6355,"d":-500,"r":10},{"x":6410,"d":-500,"r":7.5},{"x":6755,"d":-500,"r":10},{"x":6980,"d":-500,"r":7.5},{"x":7090,"d":-500,"r":5.6},
{"x":3300,"d":-600,"r":18},{"x":3355,"d":-600,"r":75},{"x":3400,"d":-600,"r":100},{"x":3465,"d":-600,"r":237},{"x":3565,"d":-600,"r":100},{"x":3700,"d":-600,"r":56},{"x":3800,"d":-600,"r":42},{"x":3865,"d":-600,"r":32},{"x":3955,"d":-600,"r":24},{"x":4045,"d":-600,"r":18},{"x":4735,"d":-600,"r":24},{"x":4845,"d":-600,"r":32},{"x":4945,"d":-600,"r":42},{"x":5045,"d":-600,"r":75},{"x":5180,"d":-600,"r":100},{"x":5290,"d":-600,"r":133},{"x":5350,"d":-600,"r":178},{"x":5400,"d":-600,"r":237},{"x":5520,"d":-600,"r":316},{"x":5935,"d":-600,"r":237},{"x":5990,"d":-600,"r":133},{"x":6035,"d":-600,"r":100},{"x":6120,"d":-600,"r":75},{"x":6180,"d":-600,"r":42},{"x":6235,"d":-600,"r":32},{"x":6290,"d":-600,"r":24},{"x":6345,"d":-600,"r":18},{"x":6400,"d":-600,"r":13},{"x":6455,"d":-600,"r":10},{"x":6510,"d":-600,"r":7.5},{"x":6690,"d":-600,"r":10},
{"x":3300,"d":-700,"r":24},{"x":3345,"d":-700,"r":56},{"x":3390,"d":-700,"r":100},{"x":3455,"d":-700,"r":178},{"x":3565,"d":-700,"r":100},{"x":3690,"d":-700,"r":56},{"x":3780,"d":-700,"r":42},{"x":3835,"d":-700,"r":32},{"x":3920,"d":-700,"r":24},{"x":3980,"d":-700,"r":18},{"x":4020,"d":-700,"r":13},{"x":4090,"d":-700,"r":10},{"x":4620,"d":-700,"r":13},{"x":4735,"d":-700,"r":18},{"x":4810,"d":-700,"r":24},{"x":4890,"d":-700,"r":32},{"x":4955,"d":-700,"r":42},{"x":5035,"d":-700,"r":75},{"x":5155,"d":-700,"r":100},{"x":5265,"d":-700,"r":133},{"x":5365,"d":-700,"r":237},{"x":5510,"d":-700,"r":316},{"x":5920,"d":-700,"r":237},{"x":5980,"d":-700,"r":133},{"x":6035,"d":-700,"r":100},{"x":6135,"d":-700,"r":75},{"x":6200,"d":-700,"r":42},{"x":6255,"d":-700,"r":32},{"x":6310,"d":-700,"r":24},{"x":6380,"d":-700,"r":18},{"x":6420,"d":-700,"r":13},{"x":6490,"d":-700,"r":10},{"x":6690,"d":-700,"r":13},{"x":6845,"d":-700,"r":18},{"x":7020,"d":-700,"r":24},
{"x":3300,"d":-800,"r":24},{"x":3345,"d":-800,"r":56},{"x":3390,"d":-800,"r":75},{"x":3445,"d":-800,"r":100},{"x":3600,"d":-800,"r":75},{"x":3665,"d":-800,"r":56},{"x":3735,"d":-800,"r":42},{"x":3800,"d":-800,"r":32},{"x":3865,"d":-800,"r":24},{"x":3920,"d":-800,"r":18},{"x":3965,"d":-800,"r":13},{"x":4020,"d":-800,"r":10},{"x":4065,"d":-800,"r":7.5},{"x":4490,"d":-800,"r":10},{"x":4620,"d":-800,"r":13},{"x":4720,"d":-800,"r":18},{"x":4810,"d":-800,"r":24},{"x":4890,"d":-800,"r":32},{"x":4955,"d":-800,"r":42},{"x":5035,"d":-800,"r":75},{"x":5145,"d":-800,"r":100},{"x":5245,"d":-800,"r":133},{"x":5300,"d":-800,"r":178},{"x":5380,"d":-800,"r":237},{"x":5510,"d":-800,"r":316},{"x":5910,"d":-800,"r":237},{"x":5980,"d":-800,"r":133},{"x":6055,"d":-800,"r":100},{"x":6155,"d":-800,"r":75},{"x":6235,"d":-800,"r":42},{"x":6300,"d":-800,"r":32},{"x":6380,"d":-800,"r":24},{"x":6445,"d":-800,"r":18},{"x":6535,"d":-800,"r":13},{"x":6665,"d":-800,"r":18},{"x":6800,"d":-800,"r":24},{"x":6845,"d":-800,"r":32},
{"x":3300,"d":-900,"r":32},{"x":3345,"d":-900,"r":42},{"x":3390,"d":-900,"r":56},{"x":3530,"d":-900,"r":75},{"x":3620,"d":-900,"r":56},{"x":3690,"d":-900,"r":42},{"x":3755,"d":-900,"r":32},{"x":3820,"d":-900,"r":24},{"x":3875,"d":-900,"r":18},{"x":3940,"d":-900,"r":13},{"x":4000,"d":-900,"r":10},{"x":4080,"d":-900,"r":7.5},{"x":4190,"d":-900,"r":5.6},{"x":4290,"d":-900,"r":7.5},{"x":4490,"d":-900,"r":10},{"x":4620,"d":-900,"r":13},{"x":4710,"d":-900,"r":18},{"x":4810,"d":-900,"r":24},{"x":4890,"d":-900,"r":32},{"x":4955,"d":-900,"r":42},{"x":5035,"d":-900,"r":75},{"x":5145,"d":-900,"r":100},{"x":5245,"d":-900,"r":133},{"x":5290,"d":-900,"r":178},{"x":5370,"d":-900,"r":237},{"x":5500,"d":-900,"r":316},{"x":5890,"d":-900,"r":237},{"x":5980,"d":-900,"r":133},{"x":6065,"d":-900,"r":100},{"x":6180,"d":-900,"r":75},{"x":6255,"d":-900,"r":42},{"x":6345,"d":-900,"r":32},{"x":6420,"d":-900,"r":24},{"x":6510,"d":-900,"r":18},{"x":6690,"d":-900,"r":24},{"x":6800,"d":-900,"r":32},{"x":6955,"d":-900,"r":42},{"x":7110,"d":-900,"r":56},{"x":7200,"d":-900,"r":42},
{"x":3300,"d":-1000,"r":32},{"x":3400,"d":-1000,"r":42},{"x":3600,"d":-1000,"r":32},{"x":3720,"d":-1000,"r":24},{"x":3790,"d":-1000,"r":18},{"x":3855,"d":-1000,"r":13},{"x":3920,"d":-1000,"r":10},{"x":4000,"d":-1000,"r":7.5},{"x":4135,"d":-1000,"r":5.6},{"x":4290,"d":-1000,"r":7.5},{"x":4490,"d":-1000,"r":10},{"x":4610,"d":-1000,"r":13},{"x":4700,"d":-1000,"r":18},{"x":4800,"d":-1000,"r":24},{"x":4890,"d":-1000,"r":32},{"x":4955,"d":-1000,"r":42},{"x":5035,"d":-1000,"r":75},{"x":5145,"d":-1000,"r":100},{"x":5245,"d":-1000,"r":133},{"x":5300,"d":-1000,"r":178},{"x":5380,"d":-1000,"r":237},{"x":5535,"d":-1000,"r":316},{"x":5800,"d":-1000,"r":237},{"x":5955,"d":-1000,"r":133},{"x":6065,"d":-1000,"r":100},{"x":6200,"d":-1000,"r":75},{"x":6290,"d":-1000,"r":42},{"x":6365,"d":-1000,"r":32},{"x":6445,"d":-1000,"r":24},{"x":6820,"d":-1000,"r":32},{"x":6935,"d":-1000,"r":42},{"x":7055,"d":-1000,"r":56},{"x":7210,"d":-1000,"r":42},{"x":7280,"d":-1000,"r":32},
{"x":3300,"d":-1100,"r":32},{"x":3645,"d":-1100,"r":24},{"x":3710,"d":-1100,"r":18},{"x":3765,"d":-1100,"r":13},{"x":3830,"d":-1100,"r":10},{"x":3980,"d":-1100,"r":7.5},{"x":4465,"d":-1100,"r":10},{"x":4600,"d":-1100,"r":13},{"x":4690,"d":-1100,"r":18},{"x":4790,"d":-1100,"r":24},{"x":4890,"d":-1100,"r":32},{"x":4955,"d":-1100,"r":42},{"x":5035,"d":-1100,"r":75},{"x":5145,"d":-1100,"r":100},{"x":5245,"d":-1100,"r":133},{"x":5355,"d":-1100,"r":178},{"x":5600,"d":-1100,"r":237},{"x":5820,"d":-1100,"r":178},{"x":5935,"d":-1100,"r":133},{"x":6065,"d":-1100,"r":100},{"x":6220,"d":-1100,"r":75},{"x":6310,"d":-1100,"r":42},{"x":6400,"d":-1100,"r":32},{"x":6490,"d":-1100,"r":24},{"x":6800,"d":-1100,"r":32},{"x":6920,"d":-1100,"r":42},{"x":7045,"d":-1100,"r":56},{"x":7245,"d":-1100,"r":42},
{"x":3300,"d":-1200,"r":24},{"x":3680,"d":-1200,"r":18},{"x":3760,"d":-1200,"r":13},{"x":3880,"d":-1200,"r":10},{"x":4010,"d":-1200,"r":7.5},{"x":4380,"d":-1200,"r":10},{"x":4530,"d":-1200,"r":13},{"x":4645,"d":-1200,"r":18},{"x":4735,"d":-1200,"r":24},{"x":4800,"d":-1200,"r":32},{"x":4935,"d":-1200,"r":42},{"x":5020,"d":-1200,"r":56},{"x":5110,"d":-1200,"r":75},{"x":5245,"d":-1200,"r":100},{"x":5335,"d":-1200,"r":133},{"x":5535,"d":-1200,"r":178},{"x":5755,"d":-1200,"r":133},{"x":5910,"d":-1200,"r":100},{"x":6000,"d":-1200,"r":75},{"x":6135,"d":-1200,"r":56},{"x":6220,"d":-1200,"r":42},{"x":6290,"d":-1200,"r":32},{"x":6400,"d":-1200,"r":24},{"x":6820,"d":-1200,"r":32},{"x":6955,"d":-1200,"r":42},{"x":7090,"d":-1200,"r":56},{"x":7265,"d":-1200,"r":42},
{"x":3300,"d":-1300,"r":24},{"x":3610,"d":-1300,"r":18},{"x":3740,"d":-1300,"r":13},{"x":3885,"d":-1300,"r":10},{"x":4430,"d":-1300,"r":13},{"x":4550,"d":-1300,"r":18},{"x":4625,"d":-1300,"r":24},{"x":4755,"d":-1300,"r":32},{"x":4935,"d":-1300,"r":42},{"x":5020,"d":-1300,"r":56},{"x":5130,"d":-1300,"r":75},{"x":5280,"d":-1300,"r":100},{"x":5310,"d":-1300,"r":133},{"x":5620,"d":-1300,"r":100},{"x":5910,"d":-1300,"r":75},{"x":6090,"d":-1300,"r":56},{"x":6200,"d":-1300,"r":42},{"x":6290,"d":-1300,"r":32},{"x":6355,"d":-1300,"r":24},{"x":6845,"d":-1300,"r":32},{"x":6980,"d":-1300,"r":42},{"x":7065,"d":-1300,"r":56},{"x":7200,"d":-1300,"r":42},
{"x":3300,"d":-1400,"r":18},{"x":3355,"d":-1400,"r":24},{"x":3490,"d":-1400,"r":18},{"x":3735,"d":-1400,"r":13},{"x":3920,"d":-1400,"r":10},{"x":4355,"d":-1400,"r":13},{"x":4455,"d":-1400,"r":18},{"x":4575,"d":-1400,"r":24},{"x":4675,"d":-1400,"r":32},{"x":4935,"d":-1400,"r":42},{"x":5065,"d":-1400,"r":56},{"x":5175,"d":-1400,"r":75},{"x":5290,"d":-1400,"r":100},{"x":5910,"d":-1400,"r":75},{"x":6045,"d":-1400,"r":56},{"x":6155,"d":-1400,"r":42},{"x":6245,"d":-1400,"r":32},{"x":6335,"d":-1400,"r":24},{"x":6555,"d":-1400,"r":18},{"x":6665,"d":-1400,"r":24},{"x":6880,"d":-1400,"r":32},{"x":7000,"d":-1400,"r":42},{"x":7245,"d":-1400,"r":32},
{"x":3300,"d":-1500,"r":18},{"x":3765,"d":-1500,"r":13},{"x":4380,"d":-1500,"r":18},{"x":4530,"d":-1500,"r":24},{"x":4755,"d":-1500,"r":32},{"x":4945,"d":-1500,"r":42},{"x":5090,"d":-1500,"r":56},{"x":5200,"d":-1500,"r":75},{"x":5880,"d":-1500,"r":56},{"x":6000,"d":-1500,"r":42},{"x":6220,"d":-1500,"r":32},{"x":6290,"d":-1500,"r":24},{"x":6490,"d":-1500,"r":18},{"x":6800,"d":-1500,"r":24},{"x":6910,"d":-1500,"r":32},{"x":7155,"d":-1500,"r":42},{"x":7245,"d":-1500,"r":32},
{"x":3300,"d":-1600,"r":18},{"x":3775,"d":-1600,"r":13},{"x":4335,"d":-1600,"r":18},{"x":4555,"d":-1600,"r":24},{"x":4780,"d":-1600,"r":32},{"x":4955,"d":-1600,"r":42},{"x":5155,"d":-1600,"r":56},{"x":5890,"d":-1600,"r":42},{"x":5980,"d":-1600,"r":32},{"x":6135,"d":-1600,"r":24},{"x":6335,"d":-1600,"r":18},{"x":6845,"d":-1600,"r":24},{"x":6955,"d":-1600,"r":32},{"x":7175,"d":-1600,"r":42},{"x":7280,"d":-1600,"r":32},
{"x":3300,"d":-1700,"r":18},{"x":3935,"d":-1700,"r":13},{"x":4290,"d":-1700,"r":18},{"x":4520,"d":-1700,"r":24},{"x":4800,"d":-1700,"r":32},{"x":4980,"d":-1700,"r":42},{"x":5245,"d":-1700,"r":56},{"x":5355,"d":-1700,"r":42},{"x":5780,"d":-1700,"r":32},{"x":6165,"d":-1700,"r":24},{"x":6280,"d":-1700,"r":18},{"x":6880,"d":-1700,"r":24},{"x":7020,"d":-1700,"r":32},
{"x":3300,"d":-1800,"r":18},{"x":4465,"d":-1800,"r":24},{"x":4890,"d":-1800,"r":32},{"x":5245,"d":-1800,"r":42},{"x":5355,"d":-1800,"r":32},{"x":5910,"d":-1800,"r":24},{"x":6110,"d":-1800,"r":18},{"x":6445,"d":-1800,"r":13},{"x":6710,"d":-1800,"r":18},{"x":6900,"d":-1800,"r":24},{"x":7090,"d":-1800,"r":32},
{"x":3300,"d":-1900,"r":18},{"x":4510,"d":-1900,"r":24},{"x":4845,"d":-1900,"r":32},{"x":5910,"d":-1900,"r":24},{"x":6045,"d":-1900,"r":18},{"x":6290,"d":-1900,"r":13},{"x":6735,"d":-1900,"r":18},{"x":6955,"d":-1900,"r":24},{"x":7110,"d":-1900,"r":32},
{"x":3300,"d":-2000,"r":18},{"x":4445,"d":-2000,"r":24},{"x":4865,"d":-2000,"r":32},{"x":5690,"d":-2000,"r":24},{"x":6000,"d":-2000,"r":18},{"x":6220,"d":-2000,"r":13},{"x":6775,"d":-2000,"r":18},{"x":6995,"d":-2000,"r":24},{"x":7135,"d":-2000,"r":32},
{"x":3300,"d":-2100,"r":18},{"x":4380,"d":-2100,"r":24},{"x":4935,"d":-2100,"r":32},{"x":5465,"d":-2100,"r":24},{"x":5890,"d":-2100,"r":18},{"x":6180,"d":-2100,"r":13},{"x":6800,"d":-2100,"r":18},{"x":7020,"d":-2100,"r":24},{"x":7175,"d":-2100,"r":32},
{"x":3300,"d":-2200,"r":18},{"x":4310,"d":-2200,"r":24},{"x":5800,"d":-2200,"r":18},{"x":6100,"d":-2200,"r":13},{"x":6800,"d":-2200,"r":18},{"x":7045,"d":-2200,"r":24},
{"x":3300,"d":-2300,"r":18},{"x":4180,"d":-2300,"r":24},{"x":5690,"d":-2300,"r":18},{"x":6020,"d":-2300,"r":13},{"x":6800,"d":-2300,"r":18},{"x":7065,"d":-2300,"r":24},
{"x":3300,"d":-2400,"r":18},{"x":3920,"d":-2400,"r":24},{"x":5535,"d":-2400,"r":18},{"x":5980,"d":-2400,"r":13},{"x":6800,"d":-2400,"r":18},{"x":7065,"d":-2400,"r":24}
],
"gx":[{"x":3600},{"x":4000},{"x":4400},{"x":4800},{"x":5200},{"x":5600},{"x":6000},{"x":6400},{"x":6800},{"x":7200}],
"gy":[{"y":-400},{"y":-800},{"y":-1200},{"y":-1600},{"y":-2000},{"y":-2400}],
"t1":[{"x":5387,"y":-2120,"t":"Line 31N"},{"x":5387,"y":-2473,"t":"Miter 07"}],
"t2":[{"x":5387,"y":-2058,"t":"Line 35N"},{"x":5387,"y":-2406,"t":"Miter 07"}],
"k":[{"r":0.42,"c":"k"},{"r":0.56,"c":"k"},{"r":0.75,"c":"k"},{"r":1,"c":"k"},{"r":1.3,"c":"k"},{"r":1.8,"c":"k"},{"r":2.4,"c":"k"},{"r":3.2,"c":"k"},{"r":4.2,"c":"k"},{"r":5.6,"c":"k"},{"r":7.5,"c":"k"},{"r":10,"c":"k"},{"r":13,"c":"k"},{"r":18,"c":"k"},{"r":24,"c":"k"},{"r":32,"c":"k"},{"r":42,"c":"k"},{"r":56,"c":"k"},{"r":75,"c":"k"},{"r":100,"c":"k"},{"r":133,"c":"k"},{"r":178,"c":"k"},{"r":237,"c":"k"},{"r":316,"c":"k"}]
},
"concat":[
{"width":600,"height":375,"layer":[
{"data":{"name":"a"},"mark":{"type":"rect","stroke":null},"encoding":{"x":{"field":"x","type":"quantitative","scale":{"domain":[3300,7300],"nice":false,"zero":false},"axis":{"orient":"top","values":[3600,4000,4400,4800,5200,5600,6000,6400,6800,7200],"format":"d","labelAngle":-90,"labelPadding":3,"labelBaseline":"middle","labelAlign":"left"}},"x2":{"datum":7300},"y":{"field":"d","type":"quantitative","scale":{"domain":[-2500,0],"nice":false,"zero":false},"axis":{"orient":"left","values":[0,-400,-800,-1200,-1600,-2000,-2400],"format":"d","labelPadding":6}},"y2":{"datum":-2500},"color":{"field":"r","type":"nominal","scale":{"domain":[0.42,0.56,0.75,1,1.3,1.8,2.4,3.2,4.2,5.6,7.5,10,13,18,24,32,42,56,75,100,133,178,237,316],"range":["#ffc4e2","#ff9fcf","#ff62b2","#ff339b","#4b2da8","#7e1f80","#b62045","#ec2a00","#f06000","#f59300","#fbc30a","#fff200","#c8dc00","#8fc000","#4aa818","#078c14","#06704e","#05507e","#0a3eb0","#0a2ee6","#0a20a8","#04107a","#02063e","#000000"]}}}},
{"data":{"name":"gx"},"mark":{"type":"rule","color":"#d0d0d0","strokeDash":[1.5,1.5],"strokeWidth":1},"encoding":{"x":{"field":"x","type":"quantitative","axis":null}}},
{"data":{"name":"gy"},"mark":{"type":"rule","color":"#d0d0d0","strokeDash":[1.5,1.5],"strokeWidth":1},"encoding":{"y":{"field":"y","type":"quantitative","axis":{"orient":"right","values":[0,-400,-800,-1200,-1600,-2000,-2400],"format":"d","labelPadding":5}}}},
{"data":{"name":"t1"},"mark":{"type":"text","font":"Liberation Serif","fontWeight":"bold","fontSize":48,"color":"#e8e8e8","baseline":"alphabetic","align":"center"},"encoding":{"x":{"field":"x","type":"quantitative","axis":null},"y":{"field":"y","type":"quantitative","axis":null},"text":{"field":"t"}}}
],"resolve":{"axis":{"y":"independent"}}},
{"data":{"name":"k"},"width":185,"height":375,"title":{"text":"SIERRA GORDA L31N","subtitle":["MITER 07 200/600/1000/1400 LPS","TCNK2G   8 26 4"],"anchor":"start","frame":"group","dx":39,"offset":-44,"font":"Liberation Mono","fontSize":12.5,"fontWeight":"normal","color":"#333","subtitleFont":"Liberation Mono","subtitleFontSize":7.5,"subtitleFontWeight":"bold","subtitleColor":"#333","subtitleLineHeight":8,"subtitlePadding":3},"view":{"stroke":null},"mark":{"type":"rect"},"encoding":{"x":{"field":"c","type":"nominal","scale":{"range":[118,156],"paddingInner":0,"paddingOuter":0},"axis":{"orient":"top","labels":false,"title":"RESISTIVITY (OHM M)","titleFont":"Liberation Mono","titleFontSize":7.5,"titleFontWeight":"bold","titleColor":"#333","titleX":124,"titleY":76,"titleAnchor":"middle"}},"y":{"field":"r","type":"nominal","sort":null,"scale":{"domain":[0.42,0.56,0.75,1,1.3,1.8,2.4,3.2,4.2,5.6,7.5,10,13,18,24,32,42,56,75,100,133,178,237,316],"range":[97,385],"paddingInner":0.3,"paddingOuter":0.15},"axis":{"orient":"left","offset":-111,"labelPadding":0,"labelFont":"Liberation Mono","labelFontSize":7.5,"labelFontWeight":"bold","labelExpr":"datum.value==1?'1.0':datum.value"}},"color":{"field":"r","type":"nominal","scale":{"domain":[0.42,0.56,0.75,1,1.3,1.8,2.4,3.2,4.2,5.6,7.5,10,13,18,24,32,42,56,75,100,133,178,237,316],"range":["#ffc4e2","#ff9fcf","#ff62b2","#ff339b","#4b2da8","#7e1f80","#b62045","#ec2a00","#f06000","#f59300","#fbc30a","#fff200","#c8dc00","#8fc000","#4aa818","#078c14","#06704e","#05507e","#0a3eb0","#0a2ee6","#0a20a8","#04107a","#02063e","#000000"]}}}},
{"width":600,"height":373,"layer":[
{"data":{"name":"b"},"mark":{"type":"rect","stroke":null},"encoding":{"x":{"field":"x","type":"quantitative","scale":{"domain":[3300,7300],"nice":false,"zero":false},"axis":{"orient":"top","values":[3600,4000,4400,4800,5200,5600,6000,6400,6800,7200],"format":"d","labelAngle":-90,"labelPadding":3,"labelBaseline":"middle","labelAlign":"left"}},"x2":{"datum":7300},"y":{"field":"d","type":"quantitative","scale":{"domain":[-2500,0],"nice":false,"zero":false},"axis":{"orient":"left","values":[0,-400,-800,-1200,-1600,-2000,-2400],"format":"d","labelPadding":6}},"y2":{"datum":-2500},"color":{"field":"r","type":"nominal","scale":{"domain":[0.42,0.56,0.75,1,1.3,1.8,2.4,3.2,4.2,5.6,7.5,10,13,18,24,32,42,56,75,100,133,178,237,316],"range":["#ffc4e2","#ff9fcf","#ff62b2","#ff339b","#4b2da8","#7e1f80","#b62045","#ec2a00","#f06000","#f59300","#fbc30a","#fff200","#c8dc00","#8fc000","#4aa818","#078c14","#06704e","#05507e","#0a3eb0","#0a2ee6","#0a20a8","#04107a","#02063e","#000000"]}}}},
{"data":{"name":"gx"},"mark":{"type":"rule","color":"#d0d0d0","strokeDash":[1.5,1.5],"strokeWidth":1},"encoding":{"x":{"field":"x","type":"quantitative","axis":null}}},
{"data":{"name":"gy"},"mark":{"type":"rule","color":"#d0d0d0","strokeDash":[1.5,1.5],"strokeWidth":1},"encoding":{"y":{"field":"y","type":"quantitative","axis":{"orient":"right","values":[0,-400,-800,-1200,-1600,-2000,-2400],"format":"d","labelPadding":5}}}},
{"data":{"name":"t2"},"mark":{"type":"text","font":"Liberation Serif","fontWeight":"bold","fontSize":48,"color":"#e8e8e8","baseline":"alphabetic","align":"center"},"encoding":{"x":{"field":"x","type":"quantitative","axis":null},"y":{"field":"y","type":"quantitative","axis":null},"text":{"field":"t"}}}
],"resolve":{"axis":{"y":"independent"}}},
{"data":{"name":"k"},"width":185,"height":373,"title":{"text":"SIERRA GORDA L35N","subtitle":["MITER 07 200/600/1000/1400 LPS","TCNK2G   8 26 4"],"anchor":"start","frame":"group","dx":39,"offset":-44,"font":"Liberation Mono","fontSize":12.5,"fontWeight":"normal","color":"#333","subtitleFont":"Liberation Mono","subtitleFontSize":7.5,"subtitleFontWeight":"bold","subtitleColor":"#333","subtitleLineHeight":8,"subtitlePadding":3},"view":{"stroke":null},"mark":{"type":"rect"},"encoding":{"x":{"field":"c","type":"nominal","scale":{"range":[118,156],"paddingInner":0,"paddingOuter":0},"axis":{"orient":"top","labels":false,"title":"RESISTIVITY (OHM M)","titleFont":"Liberation Mono","titleFontSize":7.5,"titleFontWeight":"bold","titleColor":"#333","titleX":124,"titleY":73,"titleAnchor":"middle"}},"y":{"field":"r","type":"nominal","sort":null,"scale":{"domain":[0.42,0.56,0.75,1,1.3,1.8,2.4,3.2,4.2,5.6,7.5,10,13,18,24,32,42,56,75,100,133,178,237,316],"range":[96,384],"paddingInner":0.3,"paddingOuter":0.15},"axis":{"orient":"left","offset":-111,"labelPadding":0,"labelFont":"Liberation Mono","labelFontSize":7.5,"labelFontWeight":"bold","labelExpr":"datum.value==1?'1.0':datum.value"}},"color":{"field":"r","type":"nominal","scale":{"domain":[0.42,0.56,0.75,1,1.3,1.8,2.4,3.2,4.2,5.6,7.5,10,13,18,24,32,42,56,75,100,133,178,237,316],"range":["#ffc4e2","#ff9fcf","#ff62b2","#ff339b","#4b2da8","#7e1f80","#b62045","#ec2a00","#f06000","#f59300","#fbc30a","#fff200","#c8dc00","#8fc000","#4aa818","#078c14","#06704e","#05507e","#0a3eb0","#0a2ee6","#0a20a8","#04107a","#02063e","#000000"]}}}}
],"columns":2,"spacing":{"row":53,"column":0},"bounds":"flush"}
